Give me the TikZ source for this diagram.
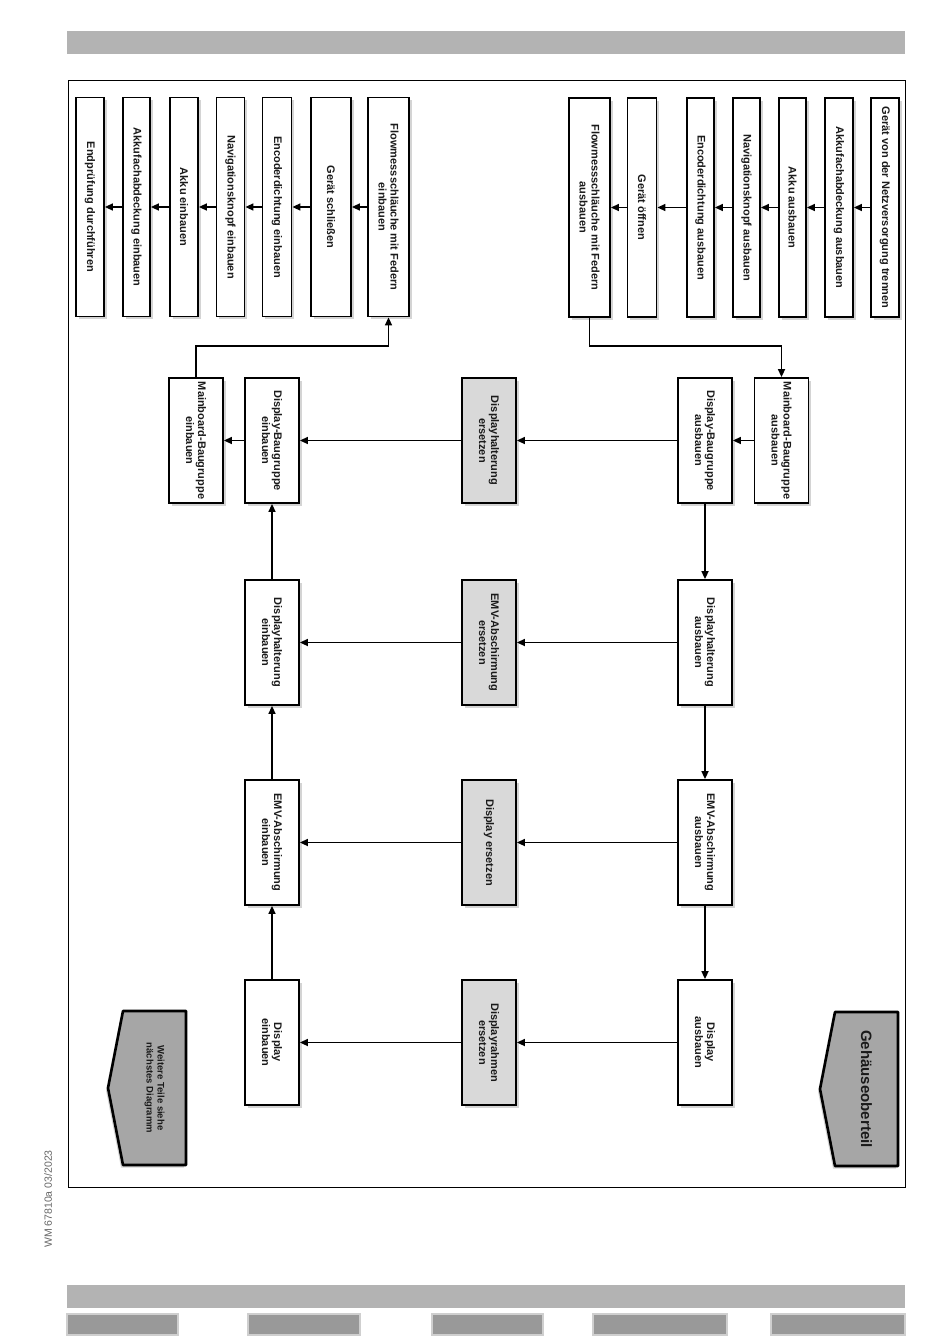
\documentclass[tikz,border=0pt]{standalone}
\usepackage{fontspec}
\setmainfont{Liberation Sans}
\usetikzlibrary{arrows.meta,shadows}
\definecolor{txt}{HTML}{1A1A1A}
\definecolor{barg}{HTML}{B3B3B3}
\definecolor{tabg}{HTML}{999999}
\definecolor{tabb}{HTML}{CFCFCF}
\definecolor{swapg}{HTML}{D9D9D9}
\definecolor{pentg}{HTML}{A6A6A6}
\definecolor{footg}{HTML}{666666}
\definecolor{shad}{HTML}{D4D4D4}
\tikzset{
  basebox/.style={draw=black, line width=1.8pt, fill=white, rotate=-90, align=center,
    inner sep=0pt, text=txt, font=\fontsize{11}{12}\selectfont\bfseries,
    drop shadow={shadow xshift=2.5pt, shadow yshift=-2.5pt, fill=shad, opacity=1}},
  stepbox/.style={basebox, minimum width=219pt, minimum height=#1},
  gridbox/.style={basebox, minimum width=125pt, minimum height=54pt},
  swapbox/.style={gridbox, fill=swapg},
  arr/.style={line width=1.6pt, -{Triangle[length=8pt,width=7pt]}},
  pent/.style={draw=black, line width=2.6pt, fill=pentg, line join=round},
  bar/.style={fill=barg},
  tab/.style={fill=tabg, draw=tabb, line width=1.2pt}
}
\begin{document}
\begin{tikzpicture}[x=1pt,y=-1pt]
\useasboundingbox (0,0) rectangle (950,1344);
% page decoration
\fill[bar] (67,31) rectangle (905,54);
\fill[bar] (67,1285) rectangle (905,1308);
\draw[tab] (67,1314) rectangle (178,1335);
\draw[tab] (248,1314) rectangle (360,1335);
\draw[tab] (432,1314) rectangle (543,1335);
\draw[tab] (593,1314) rectangle (727,1335);
\draw[tab] (771,1314) rectangle (905,1335);
\draw[line width=0.9pt] (68,80.5) rectangle (905.5,1187);
\node[rotate=90, text=footg, font=\fontsize{10.5}{12}\selectfont] (foot) at (48,1199) {WM 67810a 03/2023};

% right chain (ausbauen)
\node[stepbox=28pt] (g1) at (885,207.5) {Gerät von der Netzversorgung trennen};
\node[stepbox=28pt] (g2) at (839,207.5) {Akkufachabdeckung ausbauen};
\node[stepbox=27pt] (g3) at (792.5,207.5) {Akku ausbauen};
\node[stepbox=27pt] (g4) at (746.5,207.5) {Navigationsknopf ausbauen};
\node[stepbox=27pt] (g5) at (700.5,207.5) {Encoderdichtung ausbauen};
\node[stepbox=29pt] (g6) at (642,207.5) {Gerät öffnen};
\node[stepbox=41pt] (g7) at (589.5,207.5) {Flowmessschläuche mit Federn\\ausbauen};

% left chain (einbauen)
\node[stepbox=41pt] (e1) at (388.5,207) {Flowmessschläuche mit Federn\\einbauen};
\node[stepbox=40pt] (e2) at (331,207) {Gerät schließen};
\node[stepbox=29pt] (e3) at (277,207) {Encoderdichtung einbauen};
\node[stepbox=28pt] (e4) at (230.5,207) {Navigationsknopf einbauen};
\node[stepbox=28pt] (e5) at (184,207) {Akku einbauen};
\node[stepbox=27pt] (e6) at (136.5,207) {Akkufachabdeckung einbauen};
\node[stepbox=28pt] (e7) at (90,207) {Endprüfung durchführen};

% grid
\node[gridbox] (mba) at (781.5,440.5) {Mainboard-Baugruppe\\ausbauen};
\node[gridbox] (dba) at (705,440.5) {Display-Baugruppe\\ausbauen};
\node[swapbox] (x1) at (489,440.5) {Displayhalterung\\ersetzen};
\node[gridbox] (dbe) at (272,440.5) {Display-Baugruppe\\einbauen};
\node[gridbox] (mbe) at (196,440.5) {Mainboard-Baugruppe\\einbauen};

\node[gridbox] (dha) at (705,642.5) {Displayhalterung\\ausbauen};
\node[swapbox] (x2) at (489,642.5) {EMV-Abschirmung\\ersetzen};
\node[gridbox] (dhe) at (272,642.5) {Displayhalterung\\einbauen};

\node[gridbox] (ema) at (705,842.5) {EMV-Abschirmung\\ausbauen};
\node[swapbox] (x3) at (489,842.5) {Display ersetzen};
\node[gridbox] (eme) at (272,842.5) {EMV-Abschirmung\\einbauen};

\node[gridbox] (da) at (705,1042.5) {Display\\ausbauen};
\node[swapbox] (x4) at (489,1042.5) {Displayrahmen\\ersetzen};
\node[gridbox] (de) at (272,1042.5) {Display\\einbauen};

% pentagons
\fill[shad] (896,1014.5) -- (896,1168.5) -- (833,1168.5) -- (818,1091.5) -- (833,1014.5) -- cycle;
\draw[pent] (898,1012) -- (898,1166) -- (835,1166) -- (820,1089) -- (835,1012) -- cycle;
\node[rotate=-90, text=txt, font=\fontsize{15}{17}\selectfont\bfseries] (geh) at (866.5,1089) {Gehäuseoberteil};
\fill[shad] (184,1013.5) -- (184,1167.5) -- (121,1167.5) -- (106,1090.5) -- (121,1013.5) -- cycle;
\draw[pent] (186,1011) -- (186,1165) -- (123,1165) -- (108,1088) -- (123,1011) -- cycle;
\node[rotate=-90, align=center, text=txt, font=\fontsize{9.5}{11}\selectfont\bfseries] (wei) at (154.5,1088) {Weitere Teile siehe\\nächstes Diagramm};

% connectors: right chain
\draw[arr] (g1) -- (g2);
\draw[arr] (g2) -- (g3);
\draw[arr] (g3) -- (g4);
\draw[arr] (g4) -- (g5);
\draw[arr] (g5) -- (g6);
\draw[arr] (g6) -- (g7);
\coordinate (k1) at (0,346);
\draw[arr] (g7) -- (g7 |- k1) -- (mba |- k1) -- (mba);
% left chain
\draw[arr] (e1) -- (e2);
\draw[arr] (e2) -- (e3);
\draw[arr] (e3) -- (e4);
\draw[arr] (e4) -- (e5);
\draw[arr] (e5) -- (e6);
\draw[arr] (e6) -- (e7);
\draw[arr] (mbe) -- (mbe |- k1) -- (e1 |- k1) -- (e1);
% grid rows
\draw[arr] (mba) -- (dba);
\draw[arr] (dba) -- (x1);
\draw[arr] (x1) -- (dbe);
\draw[arr] (dbe) -- (mbe);
\draw[arr] (dha) -- (x2);
\draw[arr] (x2) -- (dhe);
\draw[arr] (ema) -- (x3);
\draw[arr] (x3) -- (eme);
\draw[arr] (da) -- (x4);
\draw[arr] (x4) -- (de);
% grid columns
\draw[arr] (dba) -- (dha);
\draw[arr] (dha) -- (ema);
\draw[arr] (ema) -- (da);
\draw[arr] (de) -- (eme);
\draw[arr] (eme) -- (dhe);
\draw[arr] (dhe) -- (dbe);
\end{tikzpicture}
\end{document}
